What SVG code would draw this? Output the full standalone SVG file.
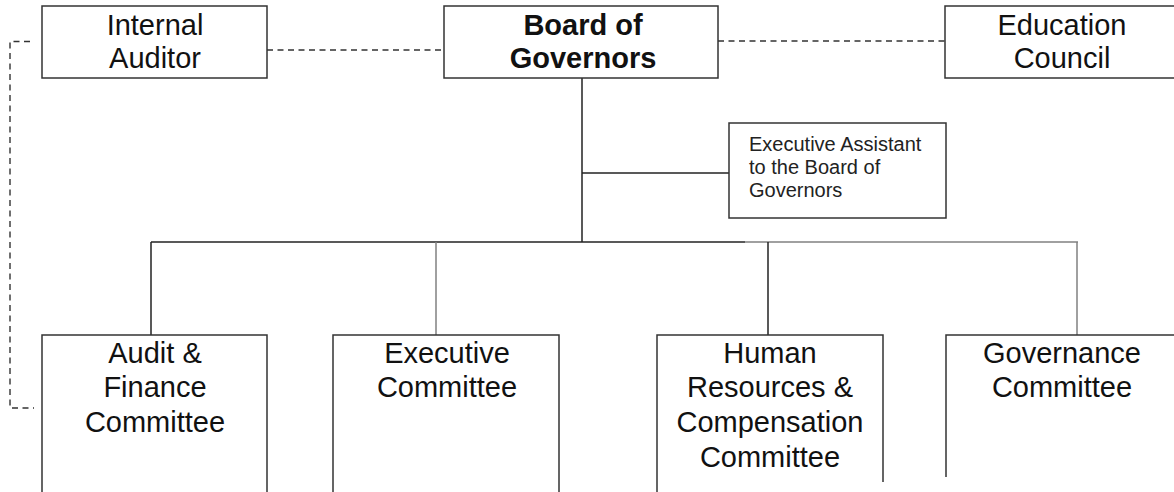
<svg xmlns="http://www.w3.org/2000/svg" width="1174" height="492" viewBox="0 0 1174 492">
<style>
.box{fill:#fff;stroke:#333;stroke-width:1.5}
.edge{fill:none;stroke:#333;stroke-width:1.5}
.line{fill:none;stroke:#222;stroke-width:1.5}
.gray{fill:none;stroke:#808080;stroke-width:1.5}
.dash{fill:none;stroke:#333;stroke-width:1.4;stroke-dasharray:6 4.5}
.t{font-family:"Liberation Sans",Arial,sans-serif;font-size:29px;fill:#111;text-anchor:middle}
.b{font-weight:bold}
.s{font-family:"Liberation Sans",Arial,sans-serif;font-size:20px;fill:#222}
</style>
<rect width="1174" height="492" fill="#fff"/>
<g id="connectors">
<path class="dash" d="M267,50 H444"/>
<path class="dash" d="M718,41 H945"/>
<path class="dash" d="M30,41.5 H10 V408 H34"/>
<path class="line" d="M582,78 V242"/>
<path class="line" d="M582,173 H729"/>
<path class="line" d="M151,242 H745"/>
<path class="gray" d="M745,242 H1078"/>
<path class="line" d="M151,242 V335"/>
<path class="gray" d="M436,242 V335"/>
<path class="line" d="M768,242 V335"/>
<path class="gray" d="M1077,242 V335"/>
</g>
<g id="internal-auditor">
<rect class="box" x="42" y="6" width="225" height="72"/>
<text class="t" x="155" y="35">Internal</text>
<text class="t" x="155" y="68">Auditor</text>
</g>
<g id="board-of-governors">
<rect class="box" x="444" y="6" width="274" height="72"/>
<text class="t b" x="583" y="35">Board of</text>
<text class="t b" x="583" y="68">Governors</text>
</g>
<g id="education-council">
<path class="edge" d="M1176,6 H945 V78 H1176"/>
<text class="t" x="1062" y="35">Education</text>
<text class="t" x="1062" y="68">Council</text>
</g>
<g id="executive-assistant">
<rect class="box" x="729" y="123" width="217" height="95"/>
<text class="s" x="749" y="151">Executive Assistant</text>
<text class="s" x="749" y="174">to the Board of</text>
<text class="s" x="749" y="197">Governors</text>
</g>
<g id="audit-finance">
<path class="edge" d="M42,494 V335 H267 V494"/>
<text class="t" x="155" y="363">Audit &amp;</text>
<text class="t" x="155" y="397">Finance</text>
<text class="t" x="155" y="432">Committee</text>
</g>
<g id="executive-committee">
<path class="edge" d="M333,494 V335 H559 V494"/>
<text class="t" x="447" y="363">Executive</text>
<text class="t" x="447" y="397">Committee</text>
</g>
<g id="hr-compensation">
<path class="edge" d="M657,494 V335 H883 V482"/>
<text class="t" x="770" y="363">Human</text>
<text class="t" x="770" y="397">Resources &amp;</text>
<text class="t" x="770" y="432">Compensation</text>
<text class="t" x="770" y="467">Committee</text>
</g>
<g id="governance-committee">
<path class="edge" d="M946,477 V335 H1176"/>
<text class="t" x="1062" y="363">Governance</text>
<text class="t" x="1062" y="397">Committee</text>
</g>
</svg>
